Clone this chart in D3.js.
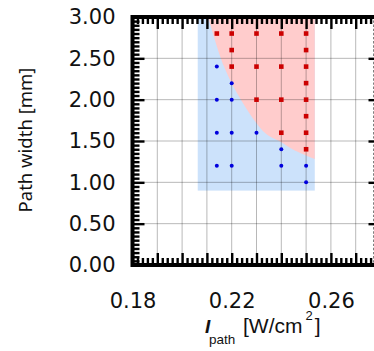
<!DOCTYPE html>
<html lang="en">
<head>
<meta charset="utf-8">
<style>
  body { margin: 0; background: #fff; }
  svg { display: block; }
  .tick text { font-family: "DejaVu Sans", sans-serif; font-size: 21px; fill: #111; }
  .grid line { stroke: #000; stroke-opacity: 0.28; stroke-width: 1px; }
</style>
<script src="https://d3js.org/d3.v7.min.js"></script>
</head>
<body>
<script>
var width = 374, height = 351;

// tick labels
var xTickVals = [0.18, 0.22, 0.26];
var yTickVals = [0.00, 0.50, 1.00, 1.50, 2.00, 2.50, 3.00];

// red squares (I_path, width)
var redX = [0.214, 0.22, 0.23, 0.24, 0.25,
            0.22, 0.25,
            0.22, 0.23, 0.24, 0.25,
            0.25,
            0.23, 0.24, 0.25,
            0.25,
            0.24, 0.25,
            0.25];
var redY = [2.8, 2.8, 2.8, 2.8, 2.8,
            2.6, 2.6,
            2.4, 2.4, 2.4, 2.4,
            2.2,
            2.0, 2.0, 2.0,
            1.8,
            1.6, 1.6,
            1.4];

// blue dots
var blueX = [0.214,
             0.22,
             0.214, 0.22,
             0.214, 0.22, 0.23,
             0.24,
             0.214, 0.22, 0.24, 0.25,
             0.25];
var blueY = [2.4,
             2.2,
             2.0, 2.0,
             1.6, 1.6, 1.6,
             1.4,
             1.2, 1.2, 1.2, 1.2,
             1.0];

// shaded regions
var blueBox = [0.2063, 0.2535, 0.9, 3.0]; // x0, x1, y0, y1
var edgeX = [0.2105, 0.2169, 0.2237, 0.2337, 0.2397, 0.2451, 0.2535];
var edgeY = [3.00, 2.40, 2.00, 1.59, 1.49, 1.39, 1.28];

var x = d3.scaleLinear().domain([0.18, 0.28]).range([132.5, 380.5]);
var y = d3.scaleLinear().domain([0, 3]).range([265, 17]);

var svg = d3.select("body").append("svg")
  .attr("width", width)
  .attr("height", height);

// regions
svg.append("rect")
  .attr("x", x(blueBox[0]))
  .attr("y", y(blueBox[3]))
  .attr("width", x(blueBox[1]) - x(blueBox[0]))
  .attr("height", y(blueBox[2]) - y(blueBox[3]))
  .attr("fill", "#cce2fb");

var edge = edgeX.map(function(d, i) { return [d, edgeY[i]]; });
var line = d3.line()
  .x(function(d) { return x(d[0]); })
  .y(function(d) { return y(d[1]); })
  .curve(d3.curveCatmullRom);
svg.append("path")
  .attr("d", line(edge) + "L" + x(edgeX[edgeX.length - 1]) + "," + y(3.0) + "Z")
  .attr("fill", "#ffcccc");

// grid
var grid = svg.append("g").attr("class", "grid");
grid.selectAll(".gx").data(d3.range(19, 28).map(function(d) { return d / 100; }))
  .enter().append("line")
  .attr("x1", function(d) { return x(d); }).attr("x2", function(d) { return x(d); })
  .attr("y1", y(0)).attr("y2", y(3));
grid.selectAll(".gy").data(yTickVals.slice(1, -1))
  .enter().append("line")
  .attr("y1", function(d) { return y(d); }).attr("y2", function(d) { return y(d); })
  .attr("x1", x(0.18)).attr("x2", x(0.28));

// points
svg.append("g").selectAll("rect")
  .data(redX.map(function(d, i) { return [d, redY[i]]; }))
  .enter().append("rect")
  .attr("x", function(d) { return x(d[0]) - 2.3; })
  .attr("y", function(d) { return y(d[1]) - 2.3; })
  .attr("width", 4.6).attr("height", 4.6)
  .attr("fill", "#cc0000");

svg.append("g").selectAll("circle")
  .data(blueX.map(function(d, i) { return [d, blueY[i]]; }))
  .enter().append("circle")
  .attr("cx", function(d) { return x(d[0]); })
  .attr("cy", function(d) { return y(d[1]); })
  .attr("r", 2)
  .attr("fill", "#0000dd");

// ticks
var xMajor = d3.range(18, 29).map(function(d) { return d / 100; });
var xMinor = d3.range(90, 141).map(function(d) { return d / 500; }).filter(function(d, i) { return i % 5 !== 0; });
var yMajor = yTickVals;
var yMinor = d3.range(0, 61).map(function(d) { return d / 20; }).filter(function(d, i) { return i % 10 !== 0; });

function tickGroup(axis, tf) {
  var g = svg.append("g").attr("transform", tf).call(axis);
  g.select(".domain").remove();
  return g;
}

function fmt(d) { return d.toFixed(2); }

// bottom
tickGroup(d3.axisBottom(x).tickValues(xMajor).tickSize(-12).tickPadding(28)
  .tickFormat(function(d) { return xTickVals.some(function(v) { return Math.abs(v - d) < 1e-9; }) ? fmt(d) : ""; }),
  "translate(0," + y(0) + ")");
tickGroup(d3.axisBottom(x).tickValues(xMinor).tickSize(-7).tickFormat(""), "translate(0," + y(0) + ")");
// top
tickGroup(d3.axisTop(x).tickValues(xMajor).tickSize(-12).tickFormat(""), "translate(0," + y(3) + ")");
tickGroup(d3.axisTop(x).tickValues(xMinor).tickSize(-7).tickFormat(""), "translate(0," + y(3) + ")");
// left
tickGroup(d3.axisLeft(y).tickValues(yMajor).tickSize(-12).tickPadding(17).tickFormat(fmt),
  "translate(" + x(0.18) + ",0)");
tickGroup(d3.axisLeft(y).tickValues(yMinor).tickSize(-7).tickFormat(""), "translate(" + x(0.18) + ",0)");
// right
tickGroup(d3.axisRight(y).tickValues(yMajor).tickSize(-12).tickFormat(""), "translate(" + x(0.28) + ",0)");
tickGroup(d3.axisRight(y).tickValues(yMinor).tickSize(-7).tickFormat(""), "translate(" + x(0.28) + ",0)");

svg.selectAll(".tick line").attr("stroke", "#000").attr("stroke-width", 2.4);

// frame
svg.append("rect")
  .attr("x", x(0.18)).attr("y", y(3))
  .attr("width", x(0.28) - x(0.18)).attr("height", y(0) - y(3))
  .attr("fill", "none").attr("stroke", "#000").attr("stroke-width", 4);

// axis titles
svg.append("text")
  .attr("transform", "translate(32,140) rotate(-90)")
  .attr("text-anchor", "middle")
  .style("font-family", "Noto Sans, sans-serif")
  .style("font-size", "18.5px")
  .attr("fill", "#111")
  .text("Path width [mm]");

var xt = svg.append("text")
  .attr("x", 205).attr("y", 333)
  .style("font-family", "Liberation Sans, Arial, sans-serif")
  .attr("fill", "#111");
xt.append("tspan").style("font-size", "19px")
  .style("font-style", "italic").style("font-weight", "bold").text("I");
xt.append("tspan").attr("x", 209).attr("dy", 11).style("font-size", "13.5px").text("path");
xt.append("tspan").attr("x", 243).attr("dy", -11).style("font-size", "21px").text("[W/cm");
xt.append("tspan").attr("dx", 3).attr("dy", -13).style("font-size", "13px").text("2");
xt.append("tspan").attr("dx", 2).attr("dy", 13).style("font-size", "21px").text("]");
</script>
</body>
</html>
